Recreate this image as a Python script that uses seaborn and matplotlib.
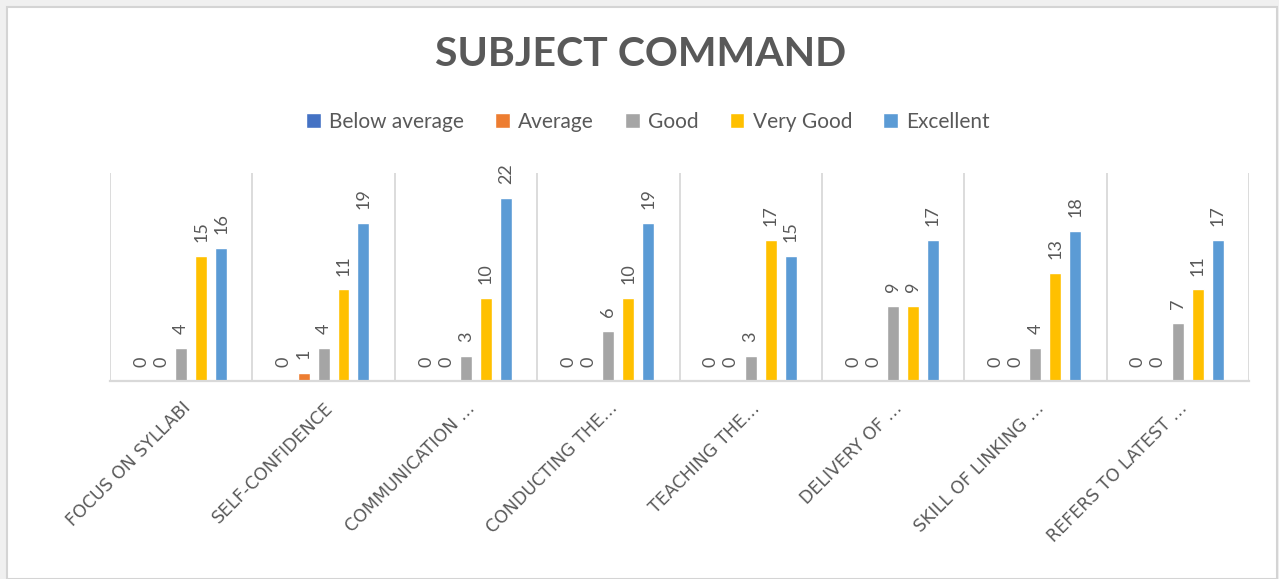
import matplotlib
matplotlib.use("Agg")
import matplotlib.pyplot as plt
from matplotlib.patches import Rectangle
import numpy as np
import pandas as pd
import seaborn as sns

# categories (shown upper-case / truncated like the source chart)
categories = ["FOCUS ON SYLLABI", "SELF-CONFIDENCE", "COMMUNICATION …", "CONDUCTING THE…",
              "TEACHING THE…", "DELIVERY OF …", "SKILL OF LINKING …", "REFERS TO LATEST …"]
ratings = ["Below average", "Average", "Good", "Very Good", "Excellent"]

below_average = [0, 0, 0, 0, 0, 0, 0, 0]
average = [0, 1, 0, 0, 0, 0, 0, 0]
good = [4, 4, 3, 6, 3, 9, 4, 7]
very_good = [15, 11, 10, 10, 17, 9, 13, 11]
excellent = [16, 19, 22, 19, 15, 17, 18, 17]

colors = ["#4472C4", "#ED7D31", "#A5A5A5", "#FFC000", "#5B9BD5"]
txt = "#595959"

series = [below_average, average, good, very_good, excellent]
rows = []
for r, vals in zip(ratings, series):
    for c, v in zip(categories, vals):
        rows.append({"Category": c, "Rating": r, "Count": v})
df = pd.DataFrame(rows)

sns.set_theme(style="white")
plt.rcParams["font.family"] = ["Lato", "DejaVu Sans"]

W, H = 1279, 579
fig = plt.figure(figsize=(W / 100, H / 100), dpi=100, facecolor="#f0f0f0")
fig.patches.append(Rectangle((7 / W, 0), 1270 / W, 1 - 7 / H, transform=fig.transFigure,
                             facecolor="white", edgecolor="#d4d4d4", lw=1.5, zorder=-1))

ax = fig.add_axes([110 / W, 1 - 381 / H, 1139 / W, 208 / H])
sns.barplot(data=df, x="Category", y="Count", hue="Rating", hue_order=ratings,
            order=categories, palette=colors, saturation=1, width=0.7, gap=0.4,
            errorbar=None, ax=ax)

ax.set_xlim(-0.5, len(categories) - 0.5)
ax.set_ylim(0, 25)
for b in np.arange(-0.5, len(categories), 1):
    ax.axvline(b, color="#d9d9d9", lw=1.3, zorder=0)

for s in ["left", "right", "top"]:
    ax.spines[s].set_visible(False)
ax.spines["bottom"].set_color("#d9d9d9")
ax.spines["bottom"].set_linewidth(1.6)
ax.set_yticks([])
ax.set_xlabel("")
ax.set_ylabel("")
ax.tick_params(axis="x", length=0, pad=13)
ax.set_xticks(range(len(categories)))
ax.set_xticklabels(categories, rotation=45, ha="right", rotation_mode="anchor")
for t in ax.get_xticklabels():
    t.set_fontfamily("DejaVu Sans")
    t.set_fontsize(12.5)
    t.set_color(txt)

for cont in ax.containers:
    ax.bar_label(cont, fmt="%g", rotation=90, padding=10, fontsize=13, color=txt)

handles, labels = ax.get_legend_handles_labels()
ax.get_legend().remove()
fig.legend(handles, labels, loc="center", bbox_to_anchor=(648 / W, 1 - 122 / H), ncol=5,
           frameon=False, handlelength=0.7, handleheight=0.7, handletextpad=0.4,
           columnspacing=1.5, fontsize=15, labelcolor=txt)

fig.text(641 / W, 1 - 55 / H, "SUBJECT COMMAND", ha="center", va="center",
         fontsize=29.5, fontweight="bold", color=txt)

fig.savefig("out.png", dpi=100, facecolor=fig.get_facecolor())
